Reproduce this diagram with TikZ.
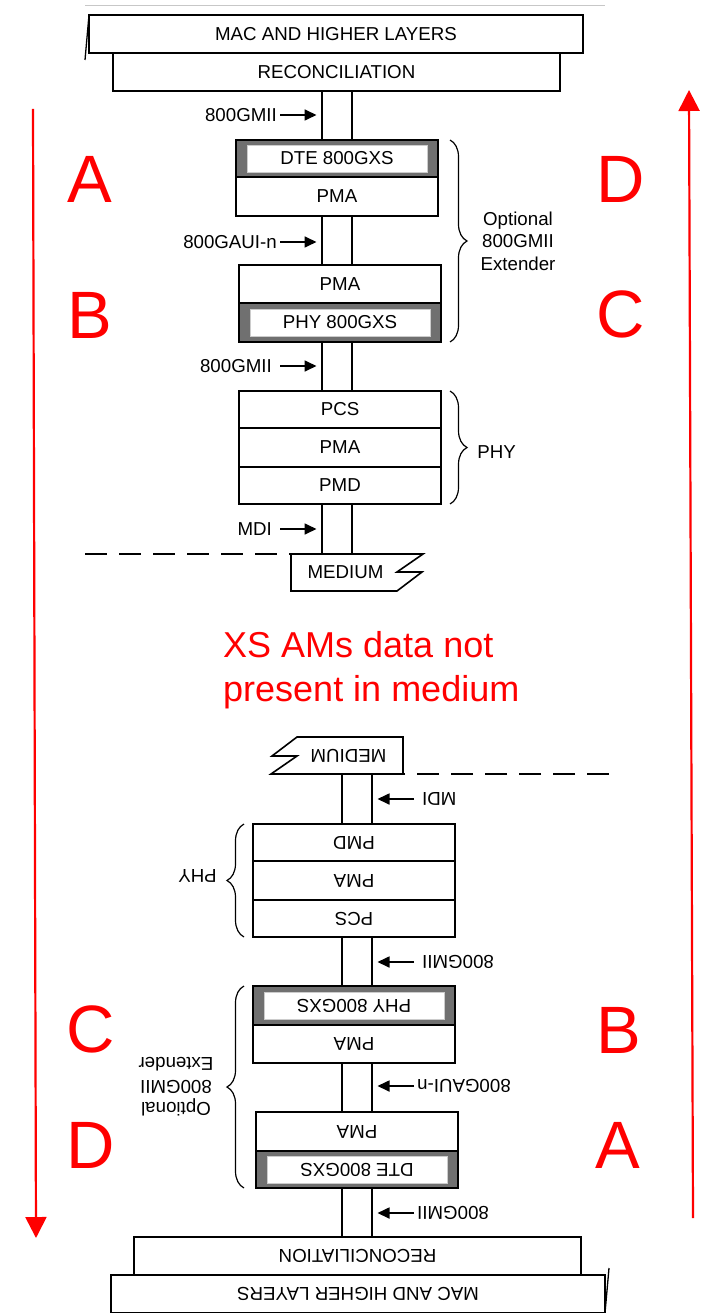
\documentclass[tikz,border=0pt]{standalone}
\usepackage{fontspec}
\setmainfont{Liberation Sans}
\usetikzlibrary{arrows.meta,decorations.pathreplacing}

\newcommand\lblfont{\fontsize{18.7}{22.5}\selectfont}
\newcommand\notefont{\fontsize{36}{44}\selectfont}
\newcommand\letterfont{\fontsize{67}{70}\selectfont}
\definecolor{xsgray}{HTML}{707070}
\definecolor{notered}{HTML}{FF0000}

\tikzset{
  layer/.style={draw, line width=2.2pt, fill=white, inner sep=0pt,
    font=\lblfont, transform shape},
  xsbox/.style={draw, line width=2.2pt, fill=xsgray, inner sep=0pt, transform shape},
  xsin/.style={draw=black!20, line width=0.8pt, fill=white, inner sep=0pt,
    minimum width=180, minimum height=27, font=\lblfont, transform shape},
  stem/.style={draw, line width=2pt, fill=white, inner sep=0pt,
    minimum width=30, transform shape},
  lbl/.style={font=\lblfont, inner sep=2pt, transform shape},
  lblarrow/.style={line width=1.7pt, -{Triangle[length=12pt,width=11pt]},
    shorten >=4.5pt},
  bracket/.style={decorate, decoration={brace, amplitude=17pt}, line width=1.2pt},
  dashline/.style={line width=1.3pt, dash pattern=on 22pt off 12pt},
  rule/.style={draw=black!22, line width=1pt},
  redarrow/.style={draw=notered, line width=2.2pt,
    -{Triangle[length=21pt,width=21pt]}},
  letter/.style={text=notered, font=\letterfont, inner sep=0pt, anchor=base},
  note/.style={text=notered, font=\notefont, inner sep=0pt, anchor=base west}
}

% One half of the layer stack; #1 prefixes every name
\newcommand\halfstack[1]{%
  \coordinate (#1rulel) at (85,6);
  \coordinate (#1ruler) at (605,6);
  \draw[rule] (#1rulel) -- (#1ruler);
  \coordinate (#1ticka) at (89,15);
  \coordinate (#1tickb) at (85,60);
  \draw[line width=1.3pt] (#1ticka) -- (#1tickb);
  % stems between the layers
  \node[stem, minimum height=49] (#1s1) at (337,115.5) {};
  \node[stem, minimum height=49] (#1s2) at (337,240.5) {};
  \node[stem, minimum height=49] (#1s3) at (337,366.5) {};
  \node[stem, minimum height=50] (#1s4) at (337,529) {};
  % layers
  \node[layer, minimum width=447, minimum height=38] (#1rec) at (336.5,72) {RECONCILIATION};
  \node[layer, minimum width=494, minimum height=38] (#1mac) at (336,34) {MAC AND HIGHER LAYERS};
  \node[xsbox, minimum width=202, minimum height=37] (#1dte) at (337,158.5) {};
  \node[xsin] (#1dtein) at (337,158.5) {DTE 800GXS};
  \node[layer, minimum width=202, minimum height=39] (#1pmaa) at (337,196.5) {PMA};
  \node[layer, minimum width=202, minimum height=38] (#1pmab) at (340,284) {PMA};
  \node[xsbox, minimum width=202, minimum height=39] (#1phx) at (340,322.5) {};
  \node[xsin] (#1phxin) at (340,322.5) {PHY 800GXS};
  \node[layer, minimum width=202, minimum height=37] (#1pcs) at (340,409.5) {PCS};
  \node[layer, minimum width=202, minimum height=39] (#1pmac) at (340,447.5) {PMA};
  \node[layer, minimum width=202, minimum height=37] (#1pmd) at (340,485.5) {PMD};
  % interface labels
  \node[lbl, anchor=east] (#1g1) at (279,115) {800GMII};
  \node[lbl, anchor=east] (#1g2) at (279,242) {800GAUI-n};
  \node[lbl, anchor=east] (#1g3) at (274,366) {800GMII};
  \node[lbl, anchor=east] (#1g4) at (274,529) {MDI};
  \draw[lblarrow, shorten <=1pt] (#1g1.east) -- (#1s1.west |- #1g1.east);
  \draw[lblarrow, shorten <=1pt] (#1g2.east) -- (#1s2.west |- #1g2.east);
  \draw[lblarrow, shorten <=6pt] (#1g3.east) -- (#1s3.west |- #1g3.east);
  \draw[lblarrow, shorten <=6pt] (#1g4.east) -- (#1s4.west |- #1g4.east);
  % braces
  \coordinate (#1ba) at (450,140);
  \coordinate (#1bb) at (450,342);
  \coordinate (#1bc) at (450,391);
  \coordinate (#1bd) at (450,504);
  \draw[bracket] (#1ba) -- (#1bb);
  \draw[bracket] (#1bc) -- (#1bd);
  \node[lbl, align=center] (#1ext) at (518,241) {Optional\\800GMII\\Extender};
  \node[lbl] (#1phy) at (496.5,452) {PHY};
  % medium
  \coordinate (#1mtl) at (291,554);
  \draw[line width=1.6pt, fill=white] (#1mtl) -- (423,554) -- (397,572) -- (422,572)
    -- (397,591) -- (291,591) -- cycle;
  \node[lbl] (#1med) at (345.5,572) {MEDIUM};
  \coordinate (#1dash) at (85,554);
  \draw[dashline] (#1dash) -- (#1mtl);
}

\begin{document}
\begin{tikzpicture}[x=1pt, y=-1pt]
\useasboundingbox (0,0) rectangle (707,1313);
\fill[white] (0,0) rectangle (707,1313);

\halfstack{t}
\begin{scope}[rotate around={180:(347,664)}]
  \halfstack{b}
\end{scope}

% direction arrows
\coordinate (ltop) at (33,109);
\coordinate (lbot) at (36,1238);
\draw[redarrow] (ltop) -- (lbot);
\coordinate (rbot) at (693,1218);
\coordinate (rtop) at (689,90);
\draw[redarrow] (rbot) -- (rtop);

% section letters
\node[letter] (la1) at (89.5,203) {A};
\node[letter] (lb1) at (89.5,338) {B};
\node[letter] (ld1) at (620.5,203) {D};
\node[letter] (lc1) at (621,337) {C};
\node[letter] (lc2) at (91,1052) {C};
\node[letter] (ld2) at (91,1168) {D};
\node[letter] (lb2) at (619,1053) {B};
\node[letter] (la2) at (618,1168) {A};

% note
\node[note] (n1) at (223,657) {XS AMs data not};
\node[note] (n2) at (223,701) {present in medium};
\end{tikzpicture}
\end{document}
